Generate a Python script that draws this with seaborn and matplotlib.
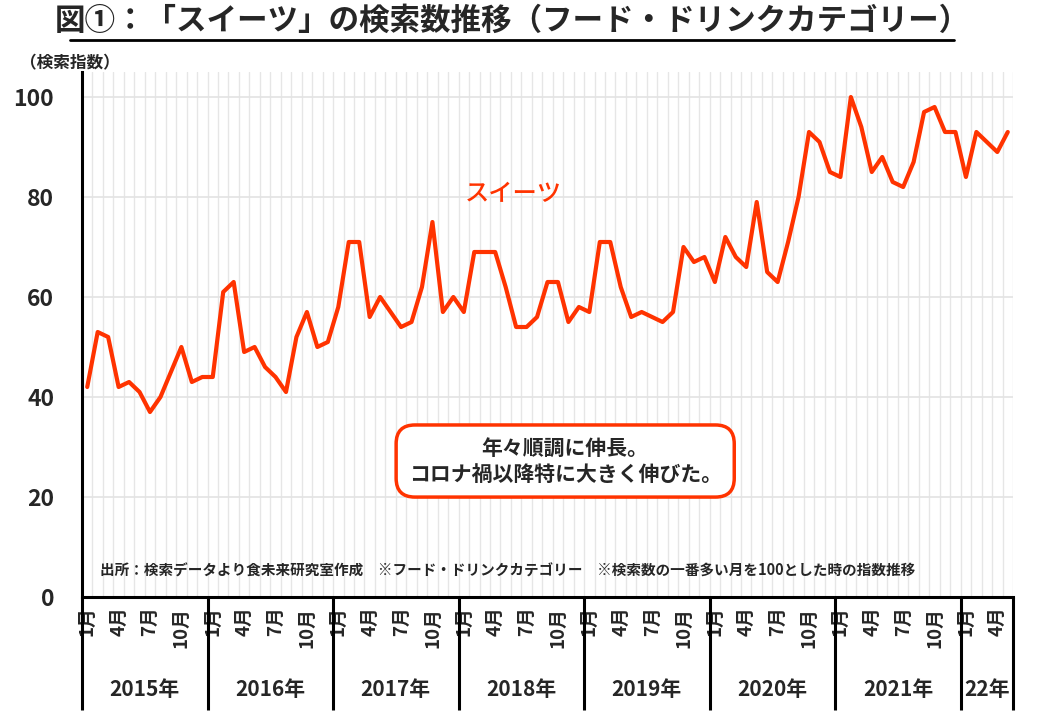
import numpy as np
import pandas as pd
import matplotlib
matplotlib.use("Agg")
import matplotlib.pyplot as plt
import matplotlib.transforms as mtransforms
from matplotlib.lines import Line2D
import seaborn as sns

# monthly search index, Jan 2015 - May 2022
v2015 = [42, 53, 52, 42, 43, 41, 37, 40, 45, 50, 43, 44]
v2016 = [44, 61, 63, 49, 50, 46, 44, 41, 52, 57, 50, 51]
v2017 = [58, 71, 71, 56, 60, 57, 54, 55, 62, 75, 57, 60]
v2018 = [57, 69, 69, 69, 62, 54, 54, 56, 63, 63, 55, 58]
v2019 = [57, 71, 71, 62, 56, 57, 56, 55, 57, 70, 67, 68]
v2020 = [63, 72, 68, 66, 79, 65, 63, 71, 80, 93, 91, 85]
v2021 = [84, 100, 94, 85, 88, 83, 82, 87, 97, 98, 93, 93]
v2022 = [84, 93, 91, 89, 93]

years = ["2015年", "2016年", "2017年", "2018年", "2019年", "2020年", "2021年", "22年"]
month_labels = ["1月", "4月", "7月", "10月"]
y_ticks = [0, 20, 40, 60, 80, 100]

series = [v2015, v2016, v2017, v2018, v2019, v2020, v2021, v2022]
values = [v for s in series for v in s]
df = pd.DataFrame({"idx": np.arange(len(values)), "value": values})

red = "#FF3300"

sns.set_style("white")
plt.rcParams["font.family"] = ["Noto Sans CJK JP", "DejaVu Sans"]

fig = plt.figure(figsize=(10.4, 7.2), dpi=100)
ax = fig.add_axes([82 / 1040, 1 - 597 / 720, 931 / 1040, 525 / 720])

sns.lineplot(data=df, x="idx", y="value", color=red, linewidth=3, ax=ax)

n = len(values)
ax.set_xlim(-0.5, n - 0.5)
ax.set_ylim(0, 105)

# y axis
ax.set_yticks(y_ticks)
ax.set_yticklabels([str(t) for t in y_ticks], fontsize=16.5, fontweight="bold")
ax.grid(axis="y", color="#e3e3e3", linewidth=1.2)

# vertical month grid
ax.set_xticks(np.arange(-0.5, n, 1), minor=True)
ax.grid(axis="x", which="minor", color="#e6e6e6", linewidth=1)

# month tick labels
pos, labs = [], []
start = 0
for s in series:
    for m, lab in zip([0, 3, 6, 9], month_labels):
        if m < len(s):
            pos.append(start + m)
            labs.append(lab)
    start += len(s)
ax.set_xticks(pos)
ax.set_xticklabels(labs, rotation=90, fontsize=13.5, fontweight="bold")
ax.tick_params(axis="both", which="both", length=0)
ax.tick_params(axis="x", pad=7)
ax.tick_params(axis="y", pad=20)

ax.set_xlabel("")
ax.set_ylabel("")

for side in ["top", "right"]:
    ax.spines[side].set_visible(False)
for side in ["left", "bottom"]:
    ax.spines[side].set_color("black")
    ax.spines[side].set_linewidth(2.2)

# year separators and labels
trans = mtransforms.blended_transform_factory(ax.transData, ax.transAxes)
start = 0
bounds = [-0.5]
for s, yl in zip(series, years):
    mid = start + (len(s) - 1) / 2
    ax.text(mid, -0.177, yl, transform=trans, ha="center", va="center",
            fontsize=15, fontweight="bold")
    start += len(s)
    bounds.append(start - 0.5)
for b in bounds:
    ax.plot([b, b], [0, -0.215], transform=trans, color="black",
            linewidth=2.2, clip_on=False, solid_capstyle="butt")

# annotations
ax.text(0.463, 0.768, "スイーツ", transform=ax.transAxes, color=red,
        fontsize=17.5, fontweight="medium", ha="center", va="center")
ax.text(0.519, 0.259, "年々順調に伸長。\nコロナ禍以降特に大きく伸びた。",
        transform=ax.transAxes, ha="center", va="center", fontsize=15,
        fontweight="bold", linespacing=1.3,
        bbox=dict(boxstyle="round,pad=0.6,rounding_size=0.9", fc="white",
                  ec=red, lw=2.5))
ax.text(0.019, 0.051,
        "出所：検索データより食未来研究室作成　※フード・ドリンクカテゴリー　※検索数の一番多い月を100とした時の指数推移",
        transform=ax.transAxes, ha="left", va="center", fontsize=10.5,
        fontweight="bold")

# title and unit label
fig.text(512 / 1040, 1 - 21 / 720,
         "図①：「スイーツ」の検索数推移（フード・ドリンクカテゴリー）",
         ha="center", va="center", fontsize=22, fontweight="bold")
fig.add_artist(Line2D([70 / 1040, 954 / 1040], [1 - 40 / 720, 1 - 40 / 720],
                      transform=fig.transFigure, color="black", linewidth=2))
fig.text(20 / 1040, 1 - 63 / 720, "（検索指数）", ha="left", va="center",
         fontsize=12, fontweight="bold")

fig.savefig("out.png", dpi=100)
